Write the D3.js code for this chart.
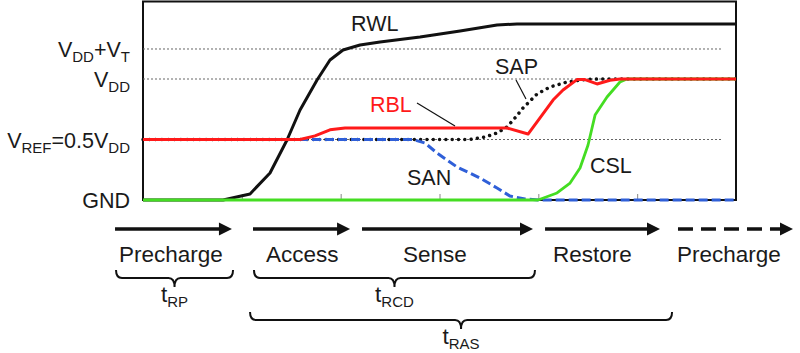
<!DOCTYPE html>
<html>
<head>
<meta charset="utf-8">
<script src="https://cdn.jsdelivr.net/npm/d3@7"></script>
<style>
  body { margin: 0; background: #fff; }
  text { font-family: "Liberation Sans", Arial, sans-serif; fill: #1a1a1a; }
</style>
</head>
<body>
<div id="chart"></div>
<script>
// time in arbitrary units (0..6 across the plot), voltage in units of VDD
const rwlT = [0, 0.81, 1.083, 1.285, 1.457, 1.589, 1.761, 1.892, 2.024, 2.196, 2.398, 2.803, 3.208, 3.582, 3.784, 6]
const rwlV = [0, 0, 0.05, 0.223, 0.496, 0.744, 0.992, 1.157, 1.24, 1.281, 1.306, 1.347, 1.397, 1.446, 1.455, 1.455]

const rblT = [0, 1.589, 1.74, 1.892, 2.044, 3.683, 3.896, 4.017, 4.149, 4.25, 4.391, 4.472, 4.594, 4.725, 4.826, 6]
const rblV = [0.5, 0.5, 0.53, 0.58, 0.595, 0.595, 0.545, 0.678, 0.826, 0.909, 0.995, 0.995, 0.959, 0.99, 1, 1]

const sapT = [0, 3.309, 3.46, 3.582, 3.683, 3.764, 3.845, 3.987, 4.118, 4.29, 4.472, 4.624, 6]
const sapV = [0.5, 0.5, 0.52, 0.554, 0.603, 0.678, 0.76, 0.876, 0.934, 0.975, 0.996, 1, 1]

const sanT = [0, 2.732, 2.853, 2.975, 3.177, 3.41, 3.582, 3.713, 3.865, 4.017, 6]
const sanV = [0.5, 0.5, 0.471, 0.388, 0.273, 0.182, 0.099, 0.033, 0.008, 0, 0]

const cslT = [0, 3.997, 4.189, 4.321, 4.422, 4.503, 4.574, 4.695, 4.826, 4.897, 6]
const cslV = [0, 0, 0.058, 0.14, 0.264, 0.455, 0.702, 0.851, 0.975, 1, 1]

// voltage levels and their labels (pieces: [text, isSubscript])
const levelValues = [0, 0.5, 1, 1.248]
const levelLabels = [
    [["GND", 0]],
    [["V", 0], ["REF", 1], ["=0.5V", 0], ["DD", 1]],
    [["V", 0], ["DD", 1]],
    [["V", 0], ["DD", 1], ["+V", 0], ["T", 1]]
]
const tickValues = [1, 2, 3, 4, 5]

// phases under the plot
const phaseNames = ["Precharge", "Access", "Sense", "Restore", "Precharge"]
const phaseStart = [-0.283, 1.113, 2.216, 4.068, 5.413]
const phaseEnd = [0.9, 2.095, 3.946, 5.231, 6.577]
const phaseDashed = [false, false, false, false, true]

// timing parameters (braces)
const braceNames = ["RP", "RCD", "RAS"]
const braceStart = [-0.273, 1.123, 1.083]
const braceEnd = [0.911, 3.966, 5.353]

// ----

const width = 800, height = 353
const svg = d3.select("#chart").append("svg")
    .attr("width", width)
    .attr("height", height)

const x = d3.scaleLinear().domain([0, 6]).range([143, 736])
const y = d3.scaleLinear().domain([0, 1]).range([200, 79])

const font = 21.5, subFont = 15

// text with subscripts
function richText(g, px, py, parts, size, sub, anchor, fill) {
    let t = g.append("text")
        .attr("x", px).attr("y", py)
        .attr("text-anchor", anchor)
    if (fill) t.style("fill", fill)
    let low = false
    parts.forEach(p => {
        let dy = 0
        if (p[1] && !low) { dy = 5; low = true }
        else if (!p[1] && low) { dy = -5; low = false }
        t.append("tspan")
            .attr("dy", dy)
            .attr("font-size", p[1] ? sub : size)
            .text(p[0])
    })
    return t
}

// frame
svg.append("rect")
    .attr("x", x(0)).attr("y", 1.5)
    .attr("width", x(6) - x(0)).attr("height", y(0) - 1.5)
    .attr("fill", "none")
    .attr("stroke", "#111")
    .attr("stroke-width", 2)

// reference levels
svg.selectAll(".level")
    .data(levelValues.filter(v => v > 0))
    .enter().append("line")
    .attr("x1", x(0)).attr("x2", 722)
    .attr("y1", d => y(d)).attr("y2", d => y(d))
    .attr("stroke", "#666")
    .attr("stroke-width", 1)
    .attr("stroke-dasharray", "2,2")

levelValues.forEach((v, i) => {
    richText(svg, 130, y(v) + 8, levelLabels[i], font, subFont, "end")
})

// ticks
const axis = svg.append("g")
    .attr("transform", `translate(0,${y(0)})`)
    .call(d3.axisBottom(x).tickValues(tickValues).tickSize(-6).tickFormat(""))
axis.select(".domain").remove()
axis.selectAll("line").attr("stroke", "#888")

// waveforms
const line = d3.line()
    .x(d => x(d[0]))
    .y(d => y(d[1]))

const zip = (ts, vs) => ts.map((t, i) => [t, vs[i]])

svg.append("path")
    .attr("d", line(zip(sapT, sapV)))
    .attr("fill", "none").attr("stroke", "#111")
    .attr("stroke-width", 3.5)
    .attr("stroke-linecap", "round")
    .attr("stroke-dasharray", "0.01,6.3")

svg.append("path")
    .attr("d", line(zip(sanT, sanV)))
    .attr("fill", "none").attr("stroke", "#2f5fd8")
    .attr("stroke-width", 3)
    .attr("stroke-dasharray", "9,4")

svg.append("path")
    .attr("d", line(zip(rwlT, rwlV)))
    .attr("fill", "none").attr("stroke", "#111")
    .attr("stroke-width", 3)
    .attr("stroke-linejoin", "round")

svg.append("path")
    .attr("d", line(zip(cslT, cslV)))
    .attr("fill", "none").attr("stroke", "#44dd22")
    .attr("stroke-width", 2.8)
    .attr("stroke-linejoin", "round")

svg.append("path")
    .attr("d", line(zip(rblT, rblV)))
    .attr("fill", "none").attr("stroke", "#ff1a1a")
    .attr("stroke-width", 3)
    .attr("stroke-linejoin", "round")

// curve labels
svg.append("text").attr("x", 351).attr("y", 31).attr("font-size", font).text("RWL")
svg.append("text").attr("x", 495).attr("y", 74).attr("font-size", font).text("SAP")
svg.append("text").attr("x", 370).attr("y", 112).attr("font-size", font).style("fill", "#ff1a1a").text("RBL")
svg.append("text").attr("x", 407).attr("y", 185).attr("font-size", font).text("SAN")
svg.append("text").attr("x", 590).attr("y", 173).attr("font-size", font).text("CSL")

svg.append("line")
    .attr("x1", 417).attr("y1", 103).attr("x2", 455).attr("y2", 126)
    .attr("stroke", "#111").attr("stroke-width", 1.2)
svg.append("line")
    .attr("x1", 516).attr("y1", 80).attr("x2", 526).attr("y2", 99)
    .attr("stroke", "#111").attr("stroke-width", 1.2)

// phase arrows
const arrowY = 229, headLen = 13, headHalf = 6.5
const phaseLabelX = [119, 266, 403, 553, 677]
phaseNames.forEach((name, i) => {
    const x1 = x(phaseStart[i]), x2 = x(phaseEnd[i])
    svg.append("line")
        .attr("x1", x1).attr("x2", x2 - headLen + 1)
        .attr("y1", arrowY).attr("y2", arrowY)
        .attr("stroke", "#111")
        .attr("stroke-width", 3.5)
        .attr("stroke-dasharray", phaseDashed[i] ? "15,8" : null)
    svg.append("path")
        .attr("d", `M${x2},${arrowY} L${x2 - headLen},${arrowY - headHalf} L${x2 - headLen},${arrowY + headHalf} Z`)
        .attr("fill", "#111")
    svg.append("text")
        .attr("x", phaseLabelX[i]).attr("y", 262)
        .attr("font-size", 22.5)
        .text(name)
})

// braces
const braceTop = [270, 270, 312]
function bracePath(x1, x2, top) {
    const bot = top + 8, tip = top + 17, mid = (x1 + x2) / 2, r = 6
    return `M${x1},${top} Q${x1},${bot} ${x1 + r},${bot} L${mid - r},${bot} Q${mid},${bot} ${mid},${tip}` +
        ` Q${mid},${bot} ${mid + r},${bot} L${x2 - r},${bot} Q${x2},${bot} ${x2},${top}`
}
braceNames.forEach((name, i) => {
    const x1 = x(braceStart[i]), x2 = x(braceEnd[i])
    svg.append("path")
        .attr("d", bracePath(x1, x2, braceTop[i]))
        .attr("fill", "none")
        .attr("stroke", "#111")
        .attr("stroke-width", 2)
    richText(svg, (x1 + x2) / 2, braceTop[i] + 32, [["t", 0], [name, 1]], 22.5, 15, "middle")
})
</script>
</body>
</html>
